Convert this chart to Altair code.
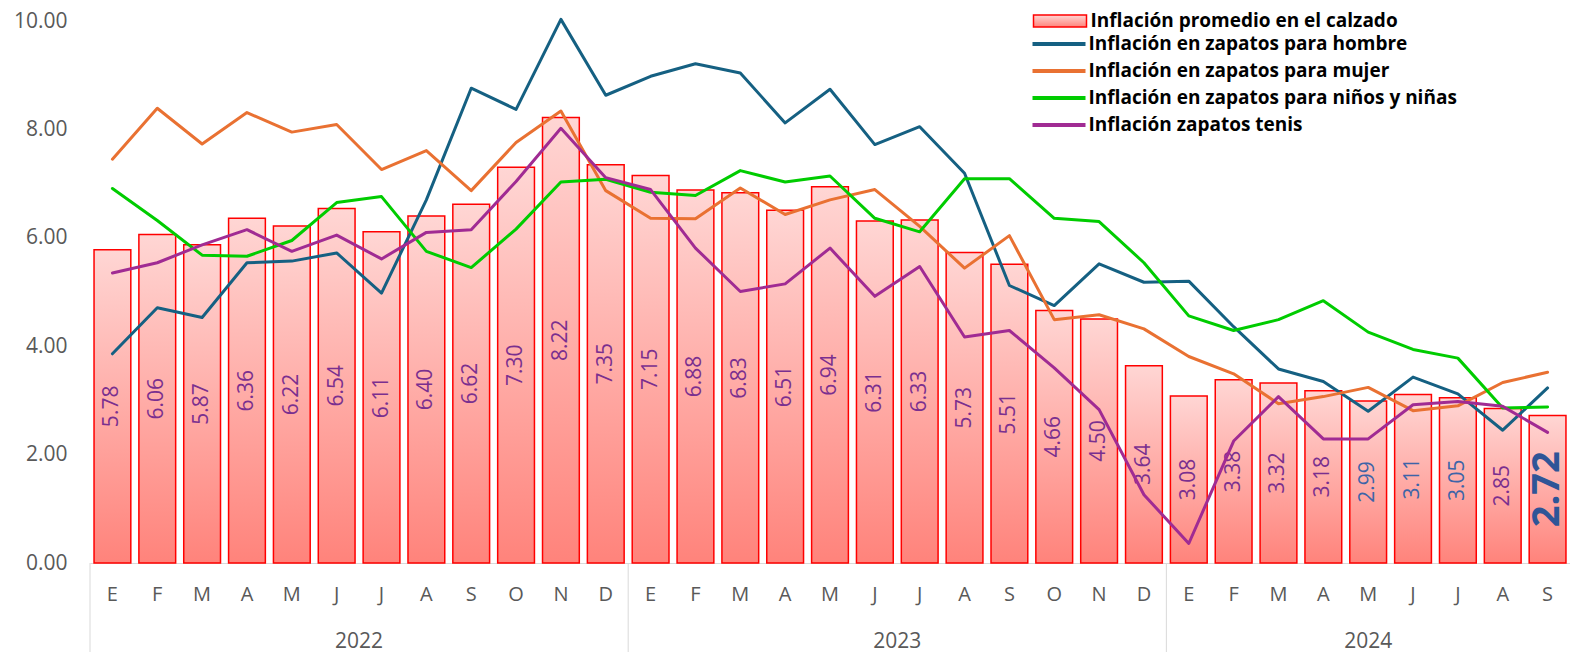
import altair as alt
import pandas as pd

# ---------------- data ----------------
years = [2022, 2023, 2024]
months_per_year = [12, 12, 9]
month_letters = ["E", "F", "M", "A", "M", "J", "J", "A", "S", "O", "N", "D"]

calzado = [5.78, 6.06, 5.87, 6.36, 6.22, 6.54, 6.11, 6.40, 6.62, 7.30, 8.22, 7.35,
           7.15, 6.88, 6.83, 6.51, 6.94, 6.31, 6.33, 5.73, 5.51, 4.66, 4.50, 3.64,
           3.08, 3.38, 3.32, 3.18, 2.99, 3.11, 3.05, 2.85, 2.72]

hombre = [3.86, 4.71, 4.53, 5.54, 5.57, 5.72, 4.98, 6.70, 8.76, 8.37, 10.03, 8.63,
          8.98, 9.21, 9.04, 8.12, 8.74, 7.72, 8.05, 7.19, 5.12, 4.75, 5.52, 5.18,
          5.20, 4.36, 3.58, 3.35, 2.80, 3.43, 3.12, 2.45, 3.23]

mujer = [7.45, 8.39, 7.73, 8.31, 7.95, 8.09, 7.26, 7.61, 6.87, 7.76, 8.34, 6.87,
         6.36, 6.35, 6.92, 6.43, 6.70, 6.89, 6.21, 5.44, 6.04, 4.49, 4.58, 4.32,
         3.81, 3.49, 2.94, 3.07, 3.24, 2.81, 2.90, 3.33, 3.52]

ninos = [6.91, 6.32, 5.68, 5.66, 5.95, 6.65, 6.76, 5.75, 5.45, 6.16, 7.03, 7.08,
         6.84, 6.78, 7.24, 7.03, 7.14, 6.36, 6.11, 7.09, 7.09, 6.36, 6.30, 5.54,
         4.56, 4.29, 4.49, 4.84, 4.26, 3.94, 3.78, 2.86, 2.88]

tenis = [5.35, 5.54, 5.87, 6.15, 5.75, 6.05, 5.61, 6.10, 6.15, 7.04, 8.02, 7.11,
         6.89, 5.81, 5.01, 5.15, 5.81, 4.92, 5.47, 4.17, 4.29, 3.60, 2.83, 1.26,
         0.36, 2.25, 3.07, 2.29, 2.29, 2.92, 2.98, 2.89, 2.41]

bar_name = "Inflación promedio en el calzado"
series_names = ["Inflación en zapatos para hombre",
                "Inflación en zapatos para mujer",
                "Inflación en zapatos para niños y niñas",
                "Inflación zapatos tenis"]
series_values = [hombre, mujer, ninos, tenis]

# ---------------- styles ----------------
line_colors = ["#156082", "#E97132", "#00CC00", "#A02B93"]
label_purple = "#7A2F8F"
label_blue = "#3D64A8"
blue_label_months = ["2024-05", "2024-06", "2024-07"]
axis_grey = "#595959"
sep_grey = "#D9D9D9"
pad_inner = 0.18
pad_outer = pad_inner / 2

W, H = 1480, 542
n_months = sum(months_per_year)
step = W / n_months                  # band step (outer padding = inner / 2)
half_gap = pad_inner * step / 2      # from a band's start back to the boundary

# ---------------- tables ----------------
keys, letters, yrs, ym = [], [], [], []
for y, n in zip(years, months_per_year):
    for m in range(n):
        keys.append(f"{y}-{m + 1:02d}|{month_letters[m]}")
        ym.append(f"{y}-{m + 1:02d}")
        letters.append(month_letters[m])
        yrs.append(y)
last_key = keys[-1]
blue_label_keys = [k for k, v in zip(keys, ym) if v in blue_label_months]

bars_df = pd.DataFrame({"key": keys, "mes": letters, "anio": yrs,
                        "valor": calzado, "leyenda": bar_name})

rows = []
for name, vals in zip(series_names, series_values):
    for k, v in zip(keys, vals):
        rows.append({"key": k, "serie": name, "valor": v})
lines_df = pd.DataFrame(rows)

yr_rows = []
acc = 0
for y, n in zip(years, months_per_year):
    yr_rows.append({"anio": str(y), "first": keys[acc],
                    "anchor": keys[acc + n // 2], "even": n % 2 == 0})
    acc += n
years_df = pd.DataFrame(yr_rows)

x_scale = alt.Scale(paddingInner=pad_inner, paddingOuter=pad_outer)
y_scale = alt.Scale(domain=[0, 10], nice=False)

x_axis = alt.Axis(title=None, labelExpr="split(datum.value, '|')[1]",
                  ticks=False, tickSize=0, grid=False,
                  domainColor=sep_grey, domainWidth=1, labelAngle=0,
                  labelPadding=21, labelFontSize=20, labelColor=axis_grey,
                  labelFont="Open Sans")
y_axis = alt.Axis(title=None, values=[0, 2, 4, 6, 8, 10], format=".2f", grid=False,
                  domain=False, ticks=False, tickSize=0, labelPadding=23,
                  labelFontSize=21, labelColor=axis_grey, labelFont="Open Sans")


def xk(field="key", **kw):
    return alt.X(field=field, type="nominal", sort=keys, scale=x_scale, axis=x_axis, **kw)


def yv(field):
    return alt.Y(field=field, type="quantitative", scale=y_scale, axis=y_axis)


gradient = alt.LinearGradient(
    gradient="linear", x1=0, y1=0, x2=0, y2=1,
    stops=[alt.GradientStop(color="#FFD6D4", offset=0),
           alt.GradientStop(color="#FF837B", offset=1)])

legend_common = dict(title=None, orient="none", direction="vertical", padding=0,
                     symbolSize=100, labelFont="Open Sans", labelFontSize=19,
                     labelFontWeight="bold", labelColor="#000000", labelLimit=800)

bars = alt.Chart(bars_df).mark_bar(fill=gradient, strokeWidth=1.5).encode(
    x=xk(),
    y=yv("valor"),
    stroke=alt.Stroke("leyenda:N", scale=alt.Scale(domain=[bar_name], range=["#FF0000"]),
                      legend=alt.Legend(legendX=960.5, legendY=-9.5,
                                        symbolType="M-5.3,-1.2H5.3V1.2H-5.3Z",
                                        symbolFillColor="#FFCFCC",
                                        symbolStrokeWidth=1.5, labelOffset=21,
                                        **legend_common)),
)

labels = alt.Chart(bars_df).transform_filter(
    alt.datum.key != last_key
).transform_calculate(
    mid="datum.valor / 2", txt="format(datum.valor, '.2f')"
).mark_text(angle=270, font="Open Sans", fontSize=21, align="center", baseline="middle").encode(
    x=xk(),
    y=yv("mid"),
    text="txt:N",
    color=alt.condition(alt.FieldOneOfPredicate(field="key", oneOf=blue_label_keys),
                        alt.value(label_blue), alt.value(label_purple)),
)

big_label = alt.Chart(bars_df).transform_filter(
    alt.datum.key == last_key
).transform_calculate(
    mid="datum.valor / 2", txt="format(datum.valor, '.2f')"
).mark_text(angle=270, font="Open Sans", fontSize=38, fontWeight="bold",
            color="#2F5597", align="center", baseline="middle").encode(
    x=xk(),
    y=yv("mid"),
    text="txt:N",
)

lines = alt.Chart(lines_df).mark_line(strokeWidth=3, strokeCap="round", strokeJoin="round").encode(
    x=xk(),
    y=yv("valor"),
    color=alt.Color("serie:N",
                    scale=alt.Scale(domain=series_names, range=line_colors),
                    sort=series_names,
                    legend=alt.Legend(legendX=959.5, legendY=13.5,
                                      symbolType="M-5.3,0H5.3", symbolStrokeWidth=4,
                                      labelOffset=20, rowPadding=7.0,
                                      **legend_common)),
)

seps = alt.Chart(years_df).mark_rule(color=sep_grey, strokeWidth=1, xOffset=-half_gap).encode(
    x=xk("first", bandPosition=0),
    y=alt.value(H),
    y2=alt.value(H + 110),
)

year_even = alt.Chart(years_df).transform_filter(alt.datum.even).mark_text(
    font="Open Sans", fontSize=21, color=axis_grey, baseline="middle", align="center",
    xOffset=-half_gap
).encode(
    x=xk("anchor", bandPosition=0),
    y=alt.value(H + 79),
    text="anio:N",
)
year_odd = alt.Chart(years_df).transform_filter(~alt.datum.even).mark_text(
    font="Open Sans", fontSize=21, color=axis_grey, baseline="middle", align="center"
).encode(
    x=xk("anchor", bandPosition=0.5),
    y=alt.value(H + 79),
    text="anio:N",
)

chart = alt.layer(bars, labels, big_label, lines, seps, year_even, year_odd).properties(
    width=W, height=H,
    autosize=alt.AutoSizeParams(type="none"),
    padding={"left": 82, "top": 13, "right": 0, "bottom": 90},
).configure(background="white").configure_view(stroke=None)

chart.save("out.html", embed_options={"renderer": "svg", "actions": False})
